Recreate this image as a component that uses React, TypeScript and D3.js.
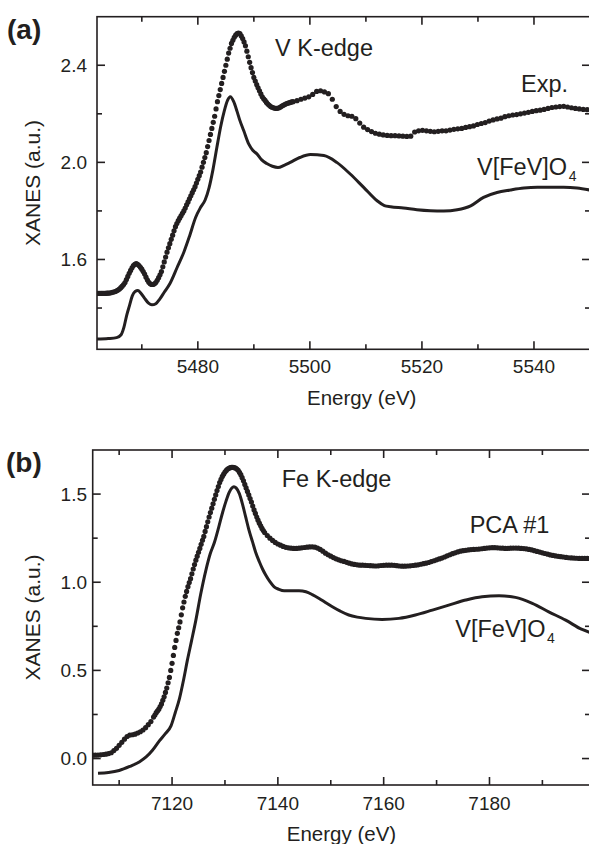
import React from 'react';
import * as d3 from 'd3';

const INK = '#231f20';
const FONT = '"Liberation Sans", Arial, Helvetica, sans-serif';

// ---------- Panel (a): V K-edge ----------
const vEnergyDomain: [number, number] = [5462, 5550];
const vXanesDomain: [number, number] = [1.23, 2.6];
const vMajorX = [5480, 5500, 5520, 5540];
const vMinorX = [5470, 5490, 5510, 5530];
const vMajorY = [1.6, 2.0, 2.4];
const vMinorY = [1.4, 1.8, 2.2];

// Experimental spectrum, fine 0.25 eV grid through the edge
const vExpEdgeStart = 5462;
const vExpEdgeStep = 0.25;
const vExpEdge = [
  1.460, 1.460, 1.460, 1.460, 1.460, 1.460, 1.460, 1.461, 1.461, 1.462,
  1.463, 1.465, 1.466, 1.468, 1.471, 1.474, 1.478, 1.484, 1.490, 1.497,
  1.505, 1.517, 1.530, 1.543, 1.555, 1.566, 1.575, 1.580, 1.583, 1.580,
  1.575, 1.568, 1.560, 1.550, 1.540, 1.527, 1.515, 1.506, 1.500, 1.497,
  1.497, 1.500, 1.505, 1.514, 1.525, 1.537, 1.550, 1.570, 1.590, 1.610,
  1.630, 1.648, 1.665, 1.683, 1.700, 1.718, 1.735, 1.748, 1.760, 1.770,
  1.780, 1.790, 1.800, 1.812, 1.825, 1.837, 1.850, 1.862, 1.875, 1.887,
  1.900, 1.915, 1.930, 1.945, 1.960, 1.980, 2.000, 2.020, 2.040, 2.065,
  2.090, 2.115, 2.140, 2.165, 2.190, 2.220, 2.250, 2.275, 2.300, 2.325,
  2.350, 2.375, 2.400, 2.425, 2.450, 2.470, 2.490, 2.503, 2.515, 2.524,
  2.530, 2.532, 2.530, 2.521, 2.510, 2.496, 2.480, 2.458, 2.435, 2.412,
  2.390, 2.370, 2.350, 2.335, 2.320, 2.307, 2.295, 2.282, 2.270, 2.262,
  2.255, 2.247, 2.240, 2.235, 2.230, 2.227, 2.225, 2.223, 2.222, 2.223,
  2.225, 2.228, 2.232, 2.235, 2.238, 2.241, 2.243, 2.245, 2.247, 2.249,
  2.250,
];

// Experimental spectrum, coarser 0.7 eV grid above the edge
const vExpTailStart = 5497.7;
const vExpTailStep = 0.7;
const vExpTail = [
  2.254, 2.260, 2.265, 2.270, 2.280, 2.292, 2.295, 2.290, 2.283, 2.260,
  2.230, 2.210, 2.198, 2.192, 2.190, 2.180, 2.162, 2.145, 2.135, 2.127,
  2.120, 2.116, 2.113, 2.111, 2.110, 2.110, 2.109, 2.108, 2.107, 2.108,
  2.125, 2.130, 2.132, 2.130, 2.128, 2.126, 2.128, 2.130, 2.130, 2.133,
  2.136, 2.138, 2.140, 2.144, 2.147, 2.150, 2.156, 2.160, 2.164, 2.170,
  2.175, 2.179, 2.182, 2.188, 2.192, 2.195, 2.197, 2.200, 2.203, 2.206,
  2.210, 2.213, 2.215, 2.218, 2.222, 2.226, 2.228, 2.230, 2.231, 2.228,
  2.225, 2.222, 2.220, 2.218, 2.217,
];

// Calculated V[FeV]O4 spectrum
const vCalcEnergy = [
  5462, 5464, 5465.5, 5466.3, 5466.8, 5467.3, 5467.8, 5468.3, 5468.8, 5469.3,
  5469.8, 5470.5, 5471.2, 5471.8, 5472.5, 5473.2, 5474, 5475, 5476.3, 5477.5,
  5478.5, 5479.6, 5480.5, 5481.3, 5482, 5482.7, 5483.4, 5484.1, 5484.7, 5485.3,
  5485.8, 5486.4, 5487, 5487.5, 5488.2, 5489.1, 5489.8, 5490.5, 5491.4, 5492.3,
  5493.3, 5494.3, 5495.4, 5496.5, 5498.2, 5500.1, 5502.5, 5504.8, 5507.2, 5509.6,
  5512, 5513.3, 5514.4, 5516.7, 5519.1, 5521.5, 5523.9, 5526.3, 5528.7, 5531,
  5533.4, 5535.8, 5538.2, 5540.6, 5545.3, 5547.7, 5550,
];
const vCalcXanes = [
  1.272, 1.274, 1.278, 1.290, 1.320, 1.370, 1.410, 1.450, 1.468, 1.472,
  1.462, 1.440, 1.420, 1.413, 1.418, 1.437, 1.465, 1.500, 1.567, 1.630,
  1.695, 1.773, 1.815, 1.845, 1.895, 1.970, 2.062, 2.150, 2.210, 2.255,
  2.270, 2.250, 2.210, 2.173, 2.130, 2.075, 2.050, 2.036, 2.010, 1.995,
  1.984, 1.979, 1.988, 2.000, 2.020, 2.032, 2.028, 2.000, 1.952, 1.897,
  1.842, 1.822, 1.817, 1.812, 1.805, 1.801, 1.800, 1.805, 1.821, 1.856,
  1.876, 1.886, 1.894, 1.897, 1.897, 1.894, 1.886,
];

// ---------- Panel (b): Fe K-edge ----------
const feEnergyDomain: [number, number] = [7105, 7199];
const feXanesDomain: [number, number] = [-0.15, 1.75];
const feMajorX = [7120, 7140, 7160, 7180];
const feMinorX = [7110, 7130, 7150, 7170, 7190];
const feMajorY = [0, 0.5, 1.0, 1.5];
const feMinorY = [0.25, 0.75, 1.25];

// PCA component #1, pre-edge on a 0.5 eV grid
const fePcaPreStart = 7105;
const fePcaPreStep = 0.5;
const fePcaPre = [
  0.019, 0.019, 0.020, 0.021, 0.023, 0.025, 0.028, 0.033, 0.045, 0.058,
  0.075, 0.092, 0.110, 0.125, 0.133, 0.135, 0.138, 0.145, 0.152, 0.162,
  0.175, 0.192, 0.210, 0.235,
];

// PCA component #1, edge on a 0.25 eV grid
const fePcaEdgeStart = 7116.75;
const fePcaEdgeStep = 0.25;
const fePcaEdge = [
  0.247, 0.260, 0.270, 0.280, 0.295, 0.310, 0.330, 0.350, 0.375, 0.400,
  0.430, 0.460, 0.500, 0.540, 0.585, 0.630, 0.670, 0.710, 0.742, 0.775,
  0.815, 0.855, 0.888, 0.920, 0.948, 0.975, 0.998, 1.020, 1.048, 1.075,
  1.100, 1.125, 1.148, 1.170, 1.192, 1.215, 1.238, 1.260, 1.288, 1.315,
  1.343, 1.370, 1.395, 1.420, 1.445, 1.470, 1.495, 1.520, 1.543, 1.565,
  1.583, 1.600, 1.613, 1.625, 1.634, 1.642, 1.646, 1.650, 1.651, 1.652,
  1.650, 1.648, 1.642, 1.635, 1.623, 1.610, 1.593, 1.575, 1.555, 1.535,
  1.515, 1.495, 1.475, 1.455, 1.432, 1.410, 1.390, 1.370, 1.352, 1.335,
  1.320, 1.305, 1.293, 1.282,
];

// PCA component #1, above the edge on a 0.5 eV grid
const fePcaTailStart = 7138;
const fePcaTailStep = 0.5;
const fePcaTail = [
  1.265, 1.250, 1.237, 1.226, 1.217, 1.210, 1.203, 1.198, 1.195, 1.193,
  1.192, 1.192, 1.193, 1.195, 1.197, 1.199, 1.200, 1.201, 1.199, 1.194,
  1.186, 1.176, 1.165, 1.156, 1.148, 1.140, 1.133, 1.127, 1.122, 1.118,
  1.113, 1.108, 1.104, 1.101, 1.099, 1.097, 1.097, 1.096, 1.095, 1.094,
  1.093, 1.092, 1.093, 1.095, 1.096, 1.097, 1.097, 1.097, 1.096, 1.094,
  1.092, 1.091, 1.091, 1.092, 1.093, 1.095, 1.097, 1.099, 1.102, 1.105,
  1.108, 1.112, 1.117, 1.122, 1.127, 1.132, 1.137, 1.143, 1.150, 1.156,
  1.162, 1.167, 1.172, 1.176, 1.179, 1.181, 1.183, 1.185, 1.186, 1.187,
  1.188, 1.190, 1.192, 1.194, 1.195, 1.196, 1.196, 1.195, 1.194, 1.193,
  1.192, 1.192, 1.193, 1.194, 1.194, 1.193, 1.192, 1.191, 1.189, 1.186,
  1.183, 1.179, 1.175, 1.171, 1.167, 1.163, 1.159, 1.155, 1.152, 1.149,
  1.147, 1.145, 1.143, 1.141, 1.139, 1.138, 1.137, 1.136, 1.135, 1.135,
  1.135, 1.135, 1.135,
];

// Calculated V[FeV]O4 spectrum at the Fe K-edge
const feCalcEnergy = [
  7106, 7108, 7110, 7112, 7113.8, 7115.1, 7116.3, 7117.6, 7118.7, 7119.8,
  7120.6, 7121.4, 7122.2, 7122.9, 7123.7, 7124.5, 7125.4, 7126.4, 7127.2, 7128,
  7128.8, 7129.5, 7130.2, 7130.8, 7131.3, 7131.7, 7132.1, 7132.7, 7133.3, 7133.9,
  7134.5, 7135.2, 7135.8, 7136.5, 7137.1, 7137.7, 7138.5, 7139.3, 7140.2, 7141.2,
  7142.8, 7144, 7145.3, 7146.5, 7147.8, 7149, 7150.3, 7151.8, 7153.4, 7155,
  7156.6, 7159.7, 7162.9, 7166, 7169.2, 7172.3, 7175.5, 7178.6, 7181.8, 7184.9,
  7188.1, 7191.2, 7194.4, 7197.5, 7199,
];
const feCalcXanes = [
  -0.083, -0.079, -0.068, -0.045, -0.019, 0.009, 0.047, 0.100, 0.140, 0.185,
  0.260, 0.340, 0.450, 0.558, 0.670, 0.785, 0.930, 1.069, 1.160, 1.225,
  1.310, 1.390, 1.460, 1.510, 1.535, 1.542, 1.535, 1.504, 1.445, 1.372,
  1.300, 1.230, 1.170, 1.116, 1.075, 1.041, 1.003, 0.974, 0.960, 0.952,
  0.952, 0.952, 0.946, 0.930, 0.908, 0.885, 0.861, 0.836, 0.814, 0.802,
  0.795, 0.789, 0.795, 0.814, 0.842, 0.870, 0.899, 0.918, 0.923, 0.914,
  0.880, 0.832, 0.785, 0.732, 0.715,
];

type Pt = [number, number];

const onGrid = (start: number, step: number, values: number[]): Pt[] =>
  values.map((v, i) => [start + i * step, v]);

const zipPts = (xs: number[], ys: number[]): Pt[] => xs.map((x, i) => [x, ys[i]]);

interface PanelProps {
  id: string;
  box: { left: number; right: number; top: number; bottom: number };
  xDomain: [number, number];
  yDomain: [number, number];
  majorX: number[];
  minorX: number[];
  majorY: number[];
  minorY: number[];
  yFormat: (v: number) => string;
  xLabelBaseline: number;
  dots: Pt[];
  curve: Pt[];
}

function Panel(p: PanelProps) {
  const { left, right, top, bottom } = p.box;
  const x = d3.scaleLinear().domain(p.xDomain).range([left, right]);
  const y = d3.scaleLinear().domain(p.yDomain).range([bottom, top]);
  const line = d3
    .line<Pt>()
    .x((d) => x(d[0]))
    .y((d) => y(d[1]))
    .curve(d3.curveMonotoneX);
  const MAJ = 8;
  const MIN = 5;
  const sw = 1.6;
  return (
    <g>
      <defs>
        <clipPath id={p.id}>
          <rect x={left} y={top} width={right - left} height={bottom - top} />
        </clipPath>
      </defs>
      <g clipPath={`url(#${p.id})`}>
        <path d={line(p.curve) ?? ''} fill="none" stroke={INK} strokeWidth={3} strokeLinejoin="round" />
        {p.dots.map((d, i) => (
          <circle key={i} cx={x(d[0])} cy={y(d[1])} r={2.6} fill={INK} />
        ))}
      </g>
      <rect x={left} y={top} width={right - left} height={bottom - top} fill="none" stroke={INK} strokeWidth={sw} />
      {/* x ticks on bottom and top, pointing inward */}
      {p.majorX.map((t) => (
        <g key={`mx${t}`}>
          <line x1={x(t)} x2={x(t)} y1={bottom} y2={bottom - MAJ} stroke={INK} strokeWidth={sw} />
          <line x1={x(t)} x2={x(t)} y1={top} y2={top + MAJ} stroke={INK} strokeWidth={sw} />
          <text x={x(t)} y={p.xLabelBaseline} textAnchor="middle" fontSize={19} fontFamily={FONT} fill={INK}>
            {t}
          </text>
        </g>
      ))}
      {p.minorX.map((t) => (
        <g key={`nx${t}`}>
          <line x1={x(t)} x2={x(t)} y1={bottom} y2={bottom - MIN} stroke={INK} strokeWidth={sw} />
          <line x1={x(t)} x2={x(t)} y1={top} y2={top + MIN} stroke={INK} strokeWidth={sw} />
        </g>
      ))}
      {/* y ticks on left and right, pointing inward */}
      {p.majorY.map((t) => (
        <g key={`my${t}`}>
          <line x1={left} x2={left + MAJ} y1={y(t)} y2={y(t)} stroke={INK} strokeWidth={sw} />
          <line x1={right} x2={right - MAJ} y1={y(t)} y2={y(t)} stroke={INK} strokeWidth={sw} />
          <text x={87} y={y(t) + 6.8} textAnchor="end" fontSize={19} fontFamily={FONT} fill={INK}>
            {p.yFormat(t)}
          </text>
        </g>
      ))}
      {p.minorY.map((t) => (
        <g key={`ny${t}`}>
          <line x1={left} x2={left + MIN} y1={y(t)} y2={y(t)} stroke={INK} strokeWidth={sw} />
          <line x1={right} x2={right - MIN} y1={y(t)} y2={y(t)} stroke={INK} strokeWidth={sw} />
        </g>
      ))}
    </g>
  );
}

const fmt1 = d3.format('.1f');

function Label({ x, y, text, sub, size = 23.5 }: { x: number; y: number; text: string; sub?: string; size?: number }) {
  return (
    <text x={x} y={y} fontSize={size} fontFamily={FONT} fill={INK}>
      {text}
      {sub ? (
        <tspan dx={1.5} dy={6} fontSize={14}>
          {sub}
        </tspan>
      ) : null}
    </text>
  );
}

export default function App() {
  const vDots = [
    ...onGrid(vExpEdgeStart, vExpEdgeStep, vExpEdge),
    ...onGrid(vExpTailStart, vExpTailStep, vExpTail),
  ];
  const feDots = [
    ...onGrid(fePcaPreStart, fePcaPreStep, fePcaPre),
    ...onGrid(fePcaEdgeStart, fePcaEdgeStep, fePcaEdge),
    ...onGrid(fePcaTailStart, fePcaTailStep, fePcaTail),
  ];
  return (
    <div style={{ position: 'absolute', left: 0, top: 0, width: 589, height: 844, overflow: 'hidden', background: '#fff' }}>
      <svg width={589} height={844} style={{ display: 'block' }}>
        <rect width={589} height={844} fill="#fff" />
        {/* (a) vanadium */}
        <Panel
          id="clip-v"
          box={{ left: 97, right: 590, top: 16.7, bottom: 349.3 }}
          xDomain={vEnergyDomain}
          yDomain={vXanesDomain}
          majorX={vMajorX}
          minorX={vMinorX}
          majorY={vMajorY}
          minorY={vMinorY}
          yFormat={fmt1}
          xLabelBaseline={373}
          dots={vDots}
          curve={zipPts(vCalcEnergy, vCalcXanes)}
        />
        <text x={7} y={38.5} fontSize={28} fontWeight="bold" fontFamily={FONT} fill={INK}>
          (a)
        </text>
        <text x={361.7} y={405} textAnchor="middle" fontSize={20.5} fontFamily={FONT} fill={INK}>
          Energy (eV)
        </text>
        <text transform="translate(39.5,183) rotate(-90)" textAnchor="middle" fontSize={21} fontFamily={FONT} fill={INK}>
          XANES (a.u.)
        </text>
        <Label x={275} y={55.5} text="V K-edge" />
        <Label x={521} y={92} text="Exp." />
        <Label x={477} y={175.3} text="V[FeV]O" sub="4" />

        {/* (b) iron */}
        <Panel
          id="clip-fe"
          box={{ left: 92.7, right: 590, top: 450, bottom: 785 }}
          xDomain={feEnergyDomain}
          yDomain={feXanesDomain}
          majorX={feMajorX}
          minorX={feMinorX}
          majorY={feMajorY}
          minorY={feMinorY}
          yFormat={fmt1}
          xLabelBaseline={810}
          dots={feDots}
          curve={zipPts(feCalcEnergy, feCalcXanes)}
        />
        <text x={6} y={472} fontSize={28} fontWeight="bold" fontFamily={FONT} fill={INK}>
          (b)
        </text>
        <text x={341.5} y={841} textAnchor="middle" fontSize={20.5} fontFamily={FONT} fill={INK}>
          Energy (eV)
        </text>
        <text transform="translate(39.5,617.5) rotate(-90)" textAnchor="middle" fontSize={21} fontFamily={FONT} fill={INK}>
          XANES (a.u.)
        </text>
        <Label x={281.7} y={486.7} text="Fe K-edge" />
        <Label x={469.7} y={532.7} text="PCA #1" />
        <Label x={455.3} y={637.3} text="V[FeV]O" sub="4" />
      </svg>
    </div>
  );
}
